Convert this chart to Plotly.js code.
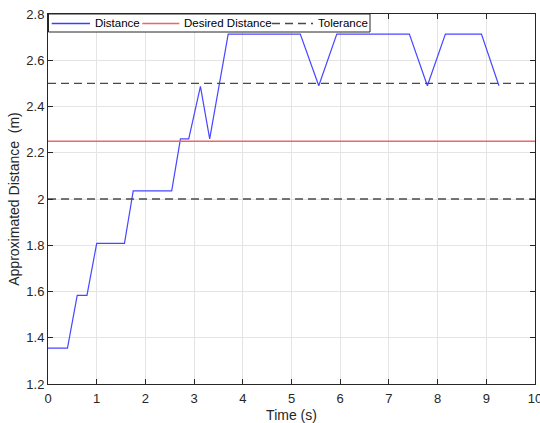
<!DOCTYPE html>
<html>
<head>
<meta charset="utf-8">
<script src="https://cdn.plot.ly/plotly-3.0.1.min.js"></script>
<style>html,body{margin:0;padding:0;background:#fff;}#chart{width:540px;height:423px;}</style>
</head>
<body>
<div id="chart"></div>
<script>
// Time (s) and approximated distance (m)
var time = [0, 0.40, 0.60, 0.80, 1.00, 1.57, 1.75, 2.54, 2.72, 2.89, 3.13, 3.32, 3.70, 5.18, 5.56, 5.93, 7.42, 7.79, 8.16, 8.90, 9.26];
var distance = [1.355, 1.355, 1.583, 1.583, 1.808, 1.808, 2.035, 2.035, 2.26, 2.26, 2.487, 2.26, 2.713, 2.713, 2.49, 2.713, 2.713, 2.49, 2.713, 2.713, 2.49];
var desiredDistance = 2.25;
var toleranceLow = 2.0;
var toleranceHigh = 2.5;
var xRange = [0, 10];
var yRange = [1.2, 2.8];
var xTicks = [0, 1, 2, 3, 4, 5, 6, 7, 8, 9, 10];
var yTicks = [1.2, 1.4, 1.6, 1.8, 2, 2.2, 2.4, 2.6, 2.8];
var seriesNames = ['Distance', 'Desired Distance', 'Tolerance'];

var blue = '#4747ff', red = '#ef6666', dark = '#4a4a4a';
var dashStyle = '8px,5px';

var traces = [
  {x: time, y: distance, mode: 'lines', name: seriesNames[0],
   line: {color: blue, width: 1.2}},
  {x: xRange, y: [desiredDistance, desiredDistance], mode: 'lines', name: seriesNames[1],
   line: {color: red, width: 1.4}},
  {x: [xRange[0], xRange[1], null, xRange[0], xRange[1]],
   y: [toleranceLow, toleranceLow, null, toleranceHigh, toleranceHigh],
   mode: 'lines', name: seriesNames[2], connectgaps: false,
   line: {color: dark, width: 1.4, dash: dashStyle}}
];

var fontFam = 'Liberation Sans, Arial, sans-serif';
var axisCommon = {
  showgrid: true, gridcolor: '#e4e4e4', gridwidth: 1,
  zeroline: false, showline: true, linecolor: '#262626', linewidth: 1,
  mirror: 'ticks', ticks: 'inside', ticklen: 5, tickcolor: '#262626',
  ticklabeloverflow: 'allow',
  tickfont: {family: fontFam, size: 13, color: '#262626'}
};

// Legend box (MATLAB style, drawn in paper coordinates)
function px2x(px) { return (px - 48) / 487; }
function py2y(py) { return (384 - py) / 370; }
var legY = py2y(23.5);
var legendItems = [
  {x0: 51.7, x1: 90, tx: 93.5, color: '#3d3dff', dash: 'solid', w: 1.3},
  {x0: 142.3, x1: 179.3, tx: 182.5, color: red, dash: 'solid', w: 1.4},
  {x0: 272, x1: 313, tx: 316.5, color: dark, dash: dashStyle, w: 1.4}
];
var shapes = [{
  type: 'rect', xref: 'paper', yref: 'paper', layer: 'above',
  x0: px2x(48.5), x1: px2x(370), y0: py2y(32), y1: py2y(14),
  fillcolor: '#ffffff', line: {color: '#262626', width: 1}
}];
var annotations = [];
legendItems.forEach(function (it, i) {
  shapes.push({type: 'line', xref: 'paper', yref: 'paper', layer: 'above',
    x0: px2x(it.x0), x1: px2x(it.x1), y0: legY, y1: legY,
    line: {color: it.color, width: it.w, dash: it.dash}});
  annotations.push({xref: 'paper', yref: 'paper', x: px2x(it.tx), y: legY,
    xanchor: 'left', yanchor: 'middle', showarrow: false, borderpad: 0,
    text: seriesNames[i], font: {family: fontFam, size: 11.5, color: '#000000'}});
});

var layout = {
  width: 540, height: 423,
  margin: {l: 48, r: 5, t: 14, b: 39},
  paper_bgcolor: '#ffffff', plot_bgcolor: '#ffffff',
  font: {family: fontFam, size: 12, color: '#262626'},
  showlegend: false,
  shapes: shapes,
  annotations: annotations,
  xaxis: Object.assign({}, axisCommon, {
    range: xRange, tickvals: xTicks, ticktext: xTicks.map(String),
    ticklabelstandoff: 2,
    title: {text: 'Time (s)', font: {family: fontFam, size: 14, color: '#262626'}, standoff: 6}
  }),
  yaxis: Object.assign({}, axisCommon, {
    range: yRange, tickvals: yTicks, ticktext: yTicks.map(String),
    title: {text: 'Approximated Distance  (m)', font: {family: fontFam, size: 14, color: '#262626'}, standoff: 3}
  })
};

Plotly.newPlot('chart', traces, layout, {displayModeBar: false, staticPlot: true});
</script>
</body>
</html>
